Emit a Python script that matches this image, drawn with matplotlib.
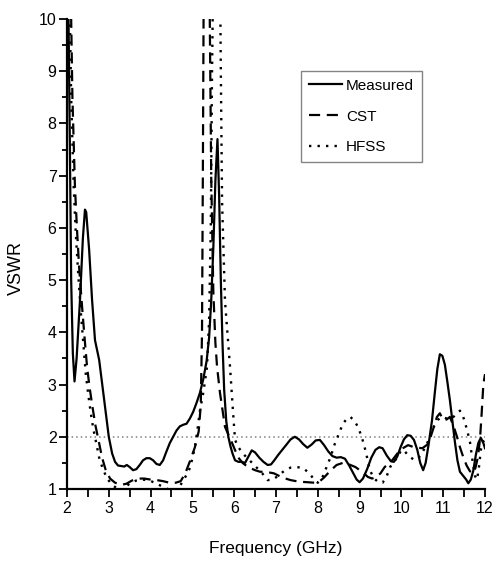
import matplotlib
matplotlib.use("Agg")
import matplotlib.pyplot as plt
from matplotlib import font_manager

# fonts: narrow Arial-like look if there is one
names = {f.name for f in font_manager.fontManager.ttflist}
fam = ['Liberation Sans Narrow', 'Liberation Sans', 'DejaVu Sans']
fam = [f for f in fam if f in names] or ['DejaVu Sans']
plt.rcParams['font.family'] = fam

# Measured
freq_meas = [2.00, 2.03, 2.07, 2.10, 2.14, 2.18, 2.23, 2.31, 2.38, 2.43, 2.46, 2.53, 2.60, 2.67,
             2.77, 2.89, 3.00, 3.08, 3.15, 3.22, 3.30, 3.37, 3.43, 3.50, 3.58, 3.66, 3.74, 3.82,
             3.90, 3.98, 4.06, 4.14, 4.22, 4.30, 4.38, 4.46, 4.54, 4.62, 4.70, 4.78, 4.86, 4.94,
             5.02, 5.10, 5.18, 5.26, 5.34, 5.40, 5.45, 5.50, 5.55, 5.60, 5.64, 5.68, 5.72, 5.76,
             5.81, 5.86, 5.91, 5.96, 6.02, 6.10, 6.18, 6.26, 6.34, 6.42, 6.50, 6.60, 6.70, 6.80,
             6.88, 6.96, 7.05, 7.15, 7.25, 7.35, 7.45, 7.55, 7.65, 7.75, 7.85, 7.95, 8.05, 8.15,
             8.25, 8.35, 8.45, 8.55, 8.65, 8.75, 8.85, 8.93, 9.00, 9.08, 9.18, 9.28, 9.38, 9.47,
             9.55, 9.65, 9.75, 9.82, 9.90, 9.98, 10.06, 10.14, 10.22, 10.30, 10.38, 10.45, 10.52,
             10.58, 10.65, 10.73, 10.80, 10.86, 10.92, 10.98, 11.04, 11.10, 11.16, 11.22, 11.28,
             11.34, 11.40, 11.48, 11.55, 11.60, 11.66, 11.72, 11.78, 11.84, 11.90, 11.96, 12.00]
vswr_meas = [12.0, 10.5, 7.5, 5.0, 3.6, 3.06, 3.5, 4.6, 5.8, 6.35, 6.3, 5.58, 4.62, 3.85,
             3.47, 2.7, 2.0, 1.68, 1.52, 1.45, 1.44, 1.43, 1.46, 1.42, 1.36, 1.38, 1.46, 1.55,
             1.59, 1.59, 1.55, 1.48, 1.46, 1.55, 1.72, 1.88, 2.0, 2.12, 2.2, 2.23, 2.25, 2.35,
             2.48, 2.65, 2.84, 3.1, 3.45, 3.9, 4.6, 5.6, 6.9, 7.7, 6.6, 5.0, 3.8, 2.9,
             2.3, 2.0, 1.82, 1.68, 1.55, 1.52, 1.52, 1.5, 1.62, 1.74, 1.70, 1.6, 1.52, 1.46,
             1.47, 1.55, 1.65, 1.75, 1.85, 1.95, 2.0, 1.95, 1.86, 1.79, 1.85, 1.93, 1.94, 1.84,
             1.72, 1.63, 1.6, 1.61, 1.58, 1.45, 1.3, 1.18, 1.13, 1.2, 1.38, 1.6, 1.75, 1.8,
             1.78, 1.64, 1.53, 1.52, 1.62, 1.8, 1.95, 2.03, 2.02, 1.94, 1.75, 1.5, 1.36,
             1.5, 1.85, 2.3, 2.85, 3.3, 3.58, 3.55, 3.38, 3.05, 2.7, 2.3, 1.9,
             1.55, 1.33, 1.25, 1.18, 1.11, 1.18, 1.35, 1.65, 1.88, 1.98, 1.88, 1.78]

# CST
freq_cst = [2.00, 2.08, 2.13, 2.19, 2.24, 2.29, 2.36, 2.42, 2.48, 2.54, 2.61, 2.68, 2.75, 2.84,
            2.92, 3.03, 3.15, 3.30, 3.42, 3.55, 3.70, 3.85, 4.00, 4.15, 4.30, 4.45, 4.60, 4.72,
            4.83, 4.95, 5.06, 5.15, 5.20, 5.23, 5.25, 5.27, 5.34, 5.41, 5.45, 5.50, 5.55, 5.59,
            5.66, 5.78, 5.95, 6.09, 6.20, 6.33, 6.50, 6.62, 6.75, 6.95, 7.15, 7.35, 7.55, 7.75,
            7.92, 8.05, 8.15, 8.30, 8.45, 8.60, 8.75, 8.90, 9.06, 9.20, 9.30, 9.40, 9.50, 9.60,
            9.78, 9.97, 10.16, 10.30, 10.50, 10.62, 10.70, 10.78, 10.85, 10.92, 11.00, 11.08,
            11.16, 11.25, 11.33, 11.40, 11.48, 11.56, 11.64, 11.71, 11.77, 11.83, 11.88, 11.92,
            11.96, 12.00]
vswr_cst = [13, 11, 8.5, 6.8, 5.96, 5.25, 4.5, 3.9, 3.34, 2.95, 2.57, 2.22, 1.95, 1.6,
            1.38, 1.2, 1.12, 1.08, 1.1, 1.16, 1.2, 1.2, 1.18, 1.17, 1.15, 1.12, 1.12, 1.15,
            1.3, 1.55, 1.8, 2.1, 2.6, 4.0, 7.0, 10.5, 13, 10.5, 7.0, 4.8, 3.8, 3.34,
            2.84, 2.19, 1.88, 1.61, 1.5, 1.42, 1.36, 1.33, 1.33, 1.3, 1.22, 1.17, 1.14, 1.13,
            1.12, 1.15, 1.22, 1.35, 1.46, 1.5, 1.47, 1.42, 1.33, 1.23, 1.2, 1.23, 1.3, 1.42,
            1.55, 1.75, 1.84, 1.8, 1.78, 1.85, 2.0, 2.2, 2.38, 2.45, 2.32, 2.33,
            2.38, 2.2, 2.0, 1.8, 1.61, 1.45, 1.34, 1.3, 1.4, 1.61, 1.95, 2.45,
            3.0, 3.2]

# HFSS
freq_hfss = [2.00, 2.05, 2.10, 2.16, 2.21, 2.27, 2.33, 2.39, 2.45, 2.51, 2.57, 2.63, 2.69, 2.77,
             2.86, 2.96, 3.08, 3.18, 3.26, 3.34, 3.42, 3.52, 3.65, 3.80, 3.95, 4.10, 4.25, 4.38,
             4.46, 4.60, 4.70, 4.78, 4.87, 4.95, 5.06, 5.11, 5.18, 5.26, 5.35, 5.40, 5.44, 5.47,
             5.50, 5.58, 5.66, 5.68, 5.71, 5.78, 5.90, 5.97, 6.02, 6.10, 6.19, 6.30, 6.43, 6.55,
             6.67, 6.80, 6.92, 7.05, 7.20, 7.35, 7.50, 7.65, 7.80, 7.92, 8.00, 8.10, 8.20, 8.30,
             8.40, 8.50, 8.60, 8.70, 8.78, 8.88, 8.96, 9.05, 9.12, 9.18, 9.25, 9.35, 9.45, 9.55,
             9.65, 9.73, 9.82, 9.90, 10.00, 10.08, 10.18, 10.30, 10.40, 10.50, 10.60, 10.70,
             10.78, 10.88, 10.97, 11.08, 11.20, 11.30, 11.40, 11.47, 11.52, 11.58, 11.64, 11.70,
             11.76, 11.81, 11.86, 11.90, 11.95, 12.00]
vswr_hfss = [13, 11, 8.5, 6.8, 5.9, 5.1, 4.4, 3.8, 3.2, 2.8, 2.45, 2.15, 1.92, 1.6,
             1.38, 1.2, 1.08, 1.02, 0.98, 0.97, 1.05, 1.12, 1.16, 1.18, 1.17, 1.12, 1.06, 1.01,
             0.98, 0.97, 1.05, 1.17, 1.28, 1.42, 1.8, 2.07, 2.5, 2.84, 3.34, 4.24, 6.0, 9.0,
             11, 13, 11, 9.0, 6.5, 4.6, 3.34, 2.5, 1.94, 1.8, 1.7, 1.6, 1.5, 1.4,
             1.3, 1.17, 1.18, 1.25, 1.35, 1.41, 1.42, 1.4, 1.3, 1.17, 1.12, 1.2, 1.4, 1.6,
             1.85, 2.05, 2.25, 2.35, 2.38, 2.3, 2.19, 2.0, 1.8, 1.6, 1.35, 1.2, 1.13, 1.12,
             1.25, 1.42, 1.52, 1.6, 1.75, 1.72, 1.63, 1.56, 1.58, 1.7, 1.84, 2.05,
             2.2, 2.33, 2.38, 2.35, 2.35, 2.42, 2.5, 2.4, 2.28, 2.1, 1.9, 1.55,
             1.25, 1.18, 1.45, 1.75, 1.9, 1.95]

ref_level = 2.0

fig = plt.figure(figsize=(4.94, 5.62), dpi=100)
ax = fig.add_axes([0.1356, 0.1299, 0.8462, 0.8363])

ax.axhline(ref_level, color='#808080', lw=1.1, linestyle=(0, (1, 2)), zorder=1)
ax.plot(freq_meas, vswr_meas, color='black', lw=1.6, linestyle='-', label='Measured')
ax.plot(freq_cst, vswr_cst, color='black', lw=1.6, linestyle=(0, (5, 3)), label='CST')
ax.plot(freq_hfss, vswr_hfss, color='black', lw=1.7, linestyle=(0, (1, 2.6)), label='HFSS')

ax.set_xlim(2, 12)
ax.set_ylim(1, 10)
ax.set_xticks(range(2, 13))
ax.set_yticks(range(1, 11))
ax.set_xticks([x + 0.5 for x in range(2, 12)], minor=True)
ax.set_yticks([y + 0.5 for y in range(1, 10)], minor=True)

for s in ['top', 'right']:
    ax.spines[s].set_visible(False)
for s in ['left', 'bottom']:
    ax.spines[s].set_linewidth(1.6)

ax.tick_params(axis='x', which='major', direction='out', length=6, width=1.3, labelsize=11.5, pad=3)
ax.tick_params(axis='x', which='minor', direction='out', length=6, width=1.3)
ax.tick_params(axis='y', which='major', direction='out', length=5.5, width=1.3, labelsize=11.5, pad=2)
ax.tick_params(axis='y', which='minor', direction='out', length=3.5, width=1.3)

ax.set_xlabel('Frequency (GHz)', fontsize=12.5, labelpad=18)
ax.set_ylabel('VSWR', fontsize=13)
ax.yaxis.set_label_coords(-0.1, 0.47)

leg = ax.legend(loc='upper left', bbox_to_anchor=(0.56, 0.889), fontsize=11,
                frameon=True, fancybox=False, handlelength=2.2, handletextpad=0.25,
                labelspacing=1.1, borderpad=0.5, borderaxespad=0)
leg.get_frame().set_edgecolor('#666666')
leg.get_frame().set_linewidth(1.0)

fig.savefig('out.png', dpi=100)
